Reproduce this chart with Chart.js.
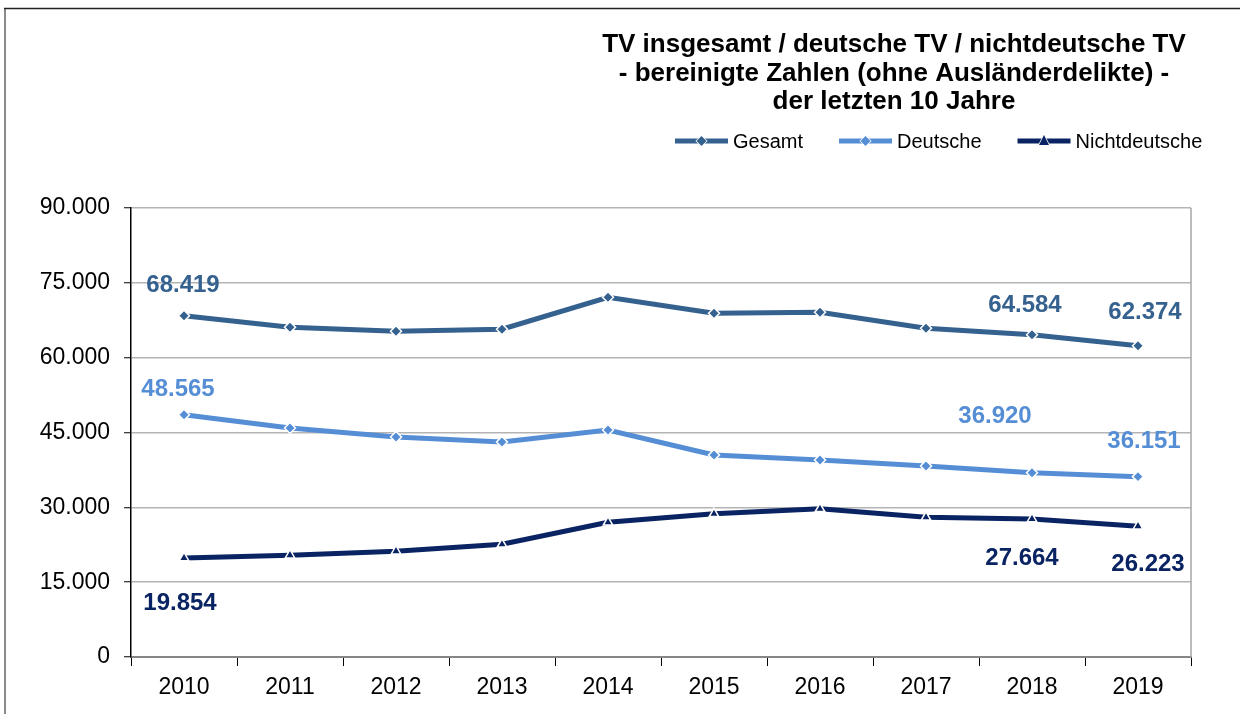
<!DOCTYPE html>
<html>
<head>
<meta charset="utf-8">
<script src="https://cdn.jsdelivr.net/npm/chart.js@4/dist/chart.umd.min.js"></script>
<style>
  body { margin: 0; background: #fff; }
  #box { position: relative; width: 1240px; height: 714px; }
</style>
</head>
<body>
<div id="box"><canvas id="chartBox" width="1240" height="714"></canvas></div>
<script>
const years = ['2010', '2011', '2012', '2013', '2014', '2015', '2016', '2017', '2018', '2019']
const gesamt = [68419, 66100, 65300, 65700, 72100, 68900, 69100, 65900, 64584, 62374]
const deutsche = [48565, 45900, 44100, 43100, 45500, 40500, 39500, 38300, 36920, 36151]
const nichtdeutsche = [19854, 20400, 21200, 22600, 27000, 28700, 29700, 28000, 27664, 26223]
const seriesNames = ['Gesamt', 'Deutsche', 'Nichtdeutsche']
const titleLines = [
    'TV insgesamt / deutsche TV / nichtdeutsche TV',
    '- bereinigte Zahlen (ohne Ausländerdelikte) -',
    'der letzten 10 Jahre'
]
// which points get a value label
const labelledPoints = [0, 8, 9]

const colors = ['#35618f', '#568ed6', '#0a2463']
const fontFamily = 'Arial, "Liberation Sans", sans-serif'

// label offsets from the point (dx, dy), per dataset, per labelled point
const labelOffsets = [
    [[-1, -30], [-7, -29], [7, -33]],
    [[-6, -25], [-37, -56], [6, -35]],
    [[-4, 45], [-10, 39], [10, 38]]
]

const fmt = (v) => v.toLocaleString('de-DE')

const decoPlugin = {
    id: 'deco',
    beforeDraw(chart) {
        const ctx = chart.ctx
        ctx.save()
        // outer frame
        ctx.strokeStyle = '#8a8a8a'
        ctx.lineWidth = 2
        ctx.beginPath()
        ctx.moveTo(5, 714)
        ctx.lineTo(5, 8)
        ctx.stroke()
        ctx.strokeStyle = '#222'
        ctx.lineWidth = 1.5
        ctx.beginPath()
        ctx.moveTo(4, 8.5)
        ctx.lineTo(1240, 8.5)
        ctx.stroke()

        // title
        ctx.fillStyle = '#000'
        ctx.font = 'bold 26px ' + fontFamily
        ctx.textAlign = 'center'
        ctx.textBaseline = 'middle'
        titleLines.forEach((t, i) => ctx.fillText(t, 894, 45 + i * 28.5))

        // legend
        ctx.font = '20px ' + fontFamily
        ctx.textAlign = 'left'
        let x = 675
        const y = 141
        chart.data.datasets.forEach((ds, i) => {
            ctx.strokeStyle = colors[i]
            ctx.lineWidth = 5
            ctx.beginPath()
            ctx.moveTo(x, y)
            ctx.lineTo(x + 53, y)
            ctx.stroke()
            drawMarker(ctx, ds.pointStyle, x + 26.5, y, 5, colors[i])
            ctx.fillStyle = '#000'
            ctx.fillText(ds.label, x + 58, y + 1)
            x += 58 + ctx.measureText(ds.label).width + 36
        })
        ctx.restore()
    },
    afterDatasetsDraw(chart) {
        const ctx = chart.ctx
        const a = chart.chartArea
        ctx.save()
        // right edge of plot area
        ctx.strokeStyle = '#a6a6a6'
        ctx.lineWidth = 1.5
        ctx.beginPath()
        ctx.moveTo(a.right, a.top)
        ctx.lineTo(a.right, a.bottom)
        ctx.stroke()

        // value labels
        ctx.font = 'bold 24px ' + fontFamily
        ctx.textAlign = 'center'
        ctx.textBaseline = 'middle'
        chart.data.datasets.forEach((ds, i) => {
            const meta = chart.getDatasetMeta(i)
            ctx.fillStyle = colors[i]
            labelledPoints.forEach((idx, k) => {
                const p = meta.data[idx]
                const off = labelOffsets[i][k]
                ctx.fillText(fmt(ds.data[idx]), p.x + off[0], p.y + off[1])
            })
        })
        ctx.restore()
    }
}

function drawMarker(ctx, style, x, y, r, color) {
    ctx.save()
    ctx.fillStyle = color
    ctx.strokeStyle = '#fff'
    ctx.lineWidth = 1.5
    ctx.beginPath()
    if (style === 'triangle') {
        ctx.moveTo(x, y - r * 1.2)
        ctx.lineTo(x + r, y + r * 0.8)
        ctx.lineTo(x - r, y + r * 0.8)
    } else {
        ctx.moveTo(x, y - r)
        ctx.lineTo(x + r, y)
        ctx.lineTo(x, y + r)
        ctx.lineTo(x - r, y)
    }
    ctx.closePath()
    ctx.stroke()
    ctx.fill()
    ctx.restore()
}

const makeSet = (label, data, i, style) => ({
    label,
    data,
    borderColor: colors[i],
    backgroundColor: colors[i],
    borderWidth: 5,
    tension: 0,
    pointStyle: style,
    pointRadius: 5.5,
    pointHoverRadius: 5.5,
    pointBorderColor: '#fff',
    pointBorderWidth: 1.5,
    pointBackgroundColor: colors[i]
})

const context = document.querySelector('#chartBox').getContext('2d')
const chart = new Chart(context, {
    type: 'line',
    data: {
        labels: years,
        datasets: [
            makeSet(seriesNames[0], gesamt, 0, 'rectRot'),
            makeSet(seriesNames[1], deutsche, 1, 'rectRot'),
            makeSet(seriesNames[2], nichtdeutsche, 2, 'triangle')
        ]
    },
    options: {
        responsive: false,
        animation: false,
        layout: { padding: { top: 208, right: 49, left: 0, bottom: 0 } },
        plugins: {
            legend: { display: false },
            title: { display: false },
            tooltip: { enabled: false }
        },
        scales: {
            x: {
                offset: true,
                afterFit: (s) => { s.height = 57 },
                grid: {
                    offset: true,
                    drawOnChartArea: false,
                    color: '#000',
                    tickLength: 9,
                    tickWidth: 1
                },
                border: { color: '#868686', width: 2 },
                ticks: {
                    color: '#000',
                    padding: 8,
                    maxRotation: 0,
                    font: { family: fontFamily, size: 23 }
                }
            },
            y: {
                min: 0,
                max: 90000,
                afterFit: (s) => { s.width = 131 },
                grid: {
                    color: '#b4b4b4',
                    lineWidth: 1.5,
                    tickColor: '#000',
                    tickLength: 7,
                    tickWidth: 1
                },
                border: { color: '#000', width: 1.5 },
                ticks: {
                    stepSize: 15000,
                    color: '#000',
                    padding: 14,
                    font: { family: fontFamily, size: 23 },
                    callback: (v) => fmt(v)
                }
            }
        }
    },
    plugins: [decoPlugin]
})
</script>
</body>
</html>
